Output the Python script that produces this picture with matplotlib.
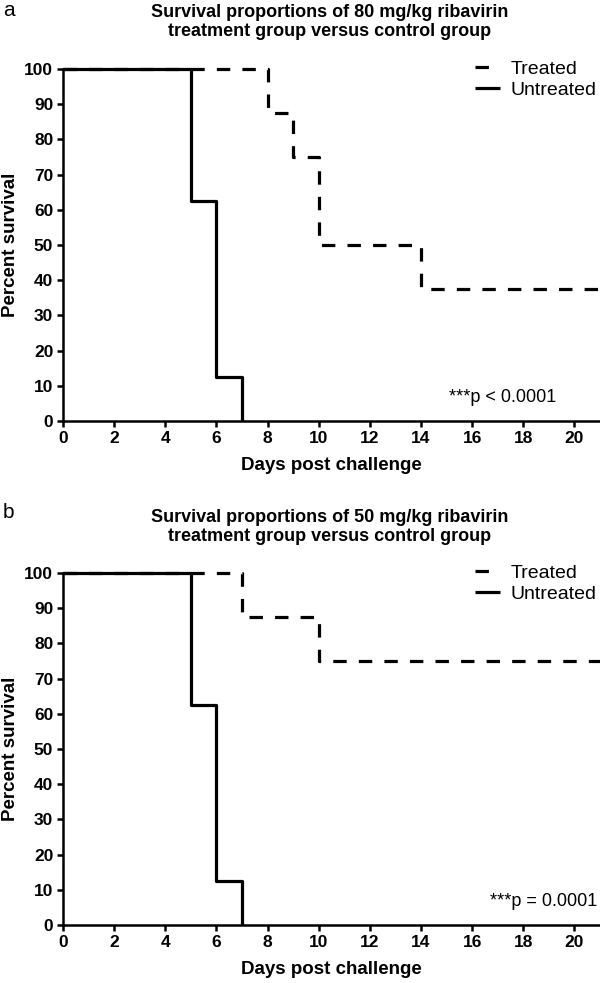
import matplotlib
matplotlib.use("Agg")
import matplotlib.pyplot as plt
import numpy as np

plt.rcParams['font.family'] = ['Liberation Sans', 'DejaVu Sans']

# Panel a data
a_treated_days = [0, 8, 9, 10, 14, 21]
a_treated_surv = [100, 87.5, 75, 50, 37.5, 37.5]
a_untreated_days = [0, 5, 6, 7]
a_untreated_surv = [100, 62.5, 12.5, 0]
# Panel b data
b_treated_days = [0, 7, 10, 21]
b_treated_surv = [100, 87.5, 75, 75]
b_untreated_days = [0, 5, 6, 7]
b_untreated_surv = [100, 62.5, 12.5, 0]

titles = ["Survival proportions of 80 mg/kg ribavirin\ntreatment group versus control group",
          "Survival proportions of 50 mg/kg ribavirin\ntreatment group versus control group"]
pvals = ["***p < 0.0001", "***p = 0.0001"]
panel_labels = ["a", "b"]
xticks = list(range(0, 21, 2))
yticks = list(range(0, 101, 10))

fig = plt.figure(figsize=(6, 9.83), dpi=100)
W, H = 600, 983

panels_px = [(69, 421), (573, 925)]

def add_panel(px_top, px_bottom):
    left = 63 / W
    width = (600 - 63) / W
    bottom = 1 - px_bottom / H
    height = (px_bottom - px_top) / H
    return fig.add_axes([left, bottom, width, height])

axes = [add_panel(*p) for p in panels_px]
data = [(a_treated_days, a_treated_surv, a_untreated_days, a_untreated_surv),
        (b_treated_days, b_treated_surv, b_untreated_days, b_untreated_surv)]
pval_pos = [(556, 398), (597, 902)]
title_y = [22, 527]
label_y = [10, 513]
xlabel_y = [466, 970]
legend_top = [60, 564]

for i, ax in enumerate(axes):
    top_px, bot_px = panels_px[i]
    hpx = bot_px - top_px
    td, ts, ud, us = data[i]
    ax.step(td, ts, where='post', color='black', lw=2.3, ls=(0, (4.2, 3.8)),
            clip_on=False, label='Treated', solid_capstyle='butt', dash_capstyle='butt')
    ax.step(ud, us, where='post', color='black', lw=2.3, clip_on=False,
            label='Untreated', solid_capstyle='butt')
    ax.set_xlim(0, 21)
    ax.set_ylim(0, 100)
    ax.set_xticks(xticks)
    ax.set_yticks(yticks)
    for s in ['top', 'right']:
        ax.spines[s].set_visible(False)
    for s in ['left', 'bottom']:
        ax.spines[s].set_linewidth(1.8)
    ax.tick_params(direction='out', length=4, width=1.8, labelsize=12.5, pad=3)
    for lab in ax.get_xticklabels() + ax.get_yticklabels():
        lab.set_fontweight('bold')
    ax.set_xlabel('Days post challenge', fontsize=13.5, fontweight='bold')
    ax.xaxis.set_label_coords(0.5, (bot_px - xlabel_y[i]) / hpx)
    ax.xaxis.label.set_va('center')
    ax.set_ylabel('Percent survival', fontsize=13.5, fontweight='bold')
    ax.yaxis.set_label_coords((11 - 63) / 537, 0.5)
    ax.yaxis.label.set_va('center')
    ax.legend(loc='upper left',
              bbox_to_anchor=((475 - 63) / 537, (bot_px - legend_top[i]) / hpx),
              frameon=False, fontsize=14, borderpad=0, borderaxespad=0,
              handlelength=1.3, handletextpad=0.55, labelspacing=0.2)
    fig.text(pval_pos[i][0] / W, 1 - pval_pos[i][1] / H, pvals[i], ha='right', va='center',
             fontsize=13)
    fig.text(330 / W, 1 - title_y[i] / H, titles[i], ha='center', va='center',
             fontsize=13, fontweight='bold', linespacing=1.1)
    fig.text(3 / W, 1 - label_y[i] / H, panel_labels[i], ha='left', va='center', fontsize=15)

fig.savefig('out.png', dpi=100)
